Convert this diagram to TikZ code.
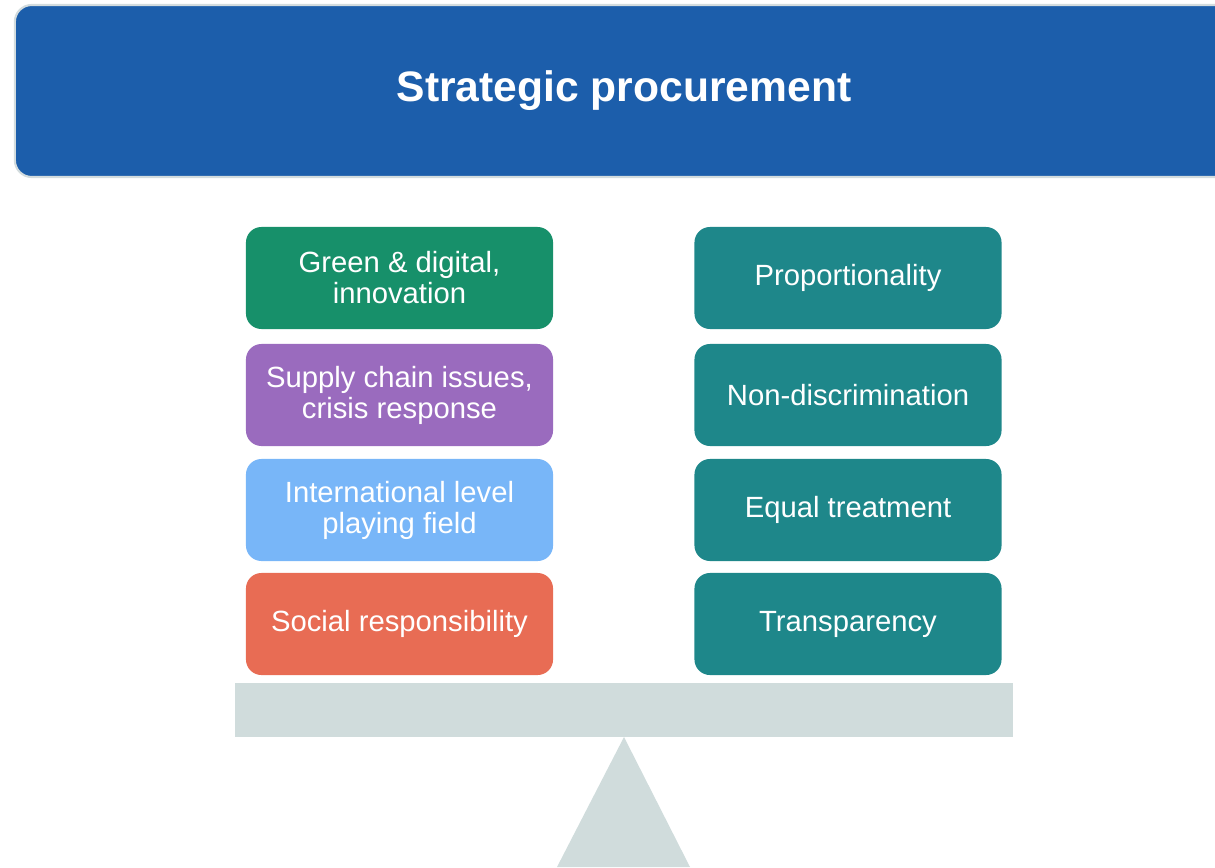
\documentclass[tikz,border=0pt]{standalone}
\usepackage{fontspec}
\usepackage{xcolor}
\usepackage{tikz}
\setmainfont{Liberation Sans}

\definecolor{headblue}{HTML}{1C5EAB}
\definecolor{headedge}{HTML}{D3DCDE}
\definecolor{greenbox}{HTML}{17906A}
\definecolor{purplebox}{HTML}{9A6BBE}
\definecolor{skybox}{HTML}{78B6F8}
\definecolor{coralbox}{HTML}{E86C54}
\definecolor{tealbox}{HTML}{1E878A}
\definecolor{scalegrey}{HTML}{D0DCDC}

\tikzset{
  valuebox/.style={rounded corners=11pt, minimum width=7.675cm, minimum height=2.55cm,
    text=white, align=center, inner sep=0pt, font=\fontsize{20.8}{22}\selectfont},
}

\begin{document}
\begin{tikzpicture}[x=0.025cm,y=-0.025cm]
		\useasboundingbox (0,0) rectangle (1215,867);
		\node [fill=headblue, draw=headedge, line width=1.5pt, rounded corners=12pt,
		  minimum width=30.45cm, minimum height=4.3cm, text=white,
		  font=\fontsize{30.3}{34}\selectfont\bfseries] (title) at (624,91) {Strategic procurement};
		\node [valuebox, fill=greenbox] (green) at (399.5,278) {Green \& digital,\\innovation};
		\node [valuebox, fill=purplebox] (supply) at (399.5,395) {Supply chain issues,\\crisis response};
		\node [valuebox, fill=skybox] (intl) at (399.5,510) {International level\\playing field};
		\node [valuebox, fill=coralbox] (social) at (399.5,624) {Social responsibility};
		\node [valuebox, fill=tealbox] (prop) at (848,278) {Proportionality};
		\node [valuebox, fill=tealbox] (nondisc) at (848,395) {Non-discrimination};
		\node [valuebox, fill=tealbox] (equal) at (848,510) {Equal treatment};
		\node [valuebox, fill=tealbox] (transp) at (848,624) {Transparency};
		\fill [scalegrey] (235,683) rectangle (1013,737);
		\fill [scalegrey] (624,737) -- (690,867) -- (557,867) -- cycle;
\end{tikzpicture}
\end{document}
